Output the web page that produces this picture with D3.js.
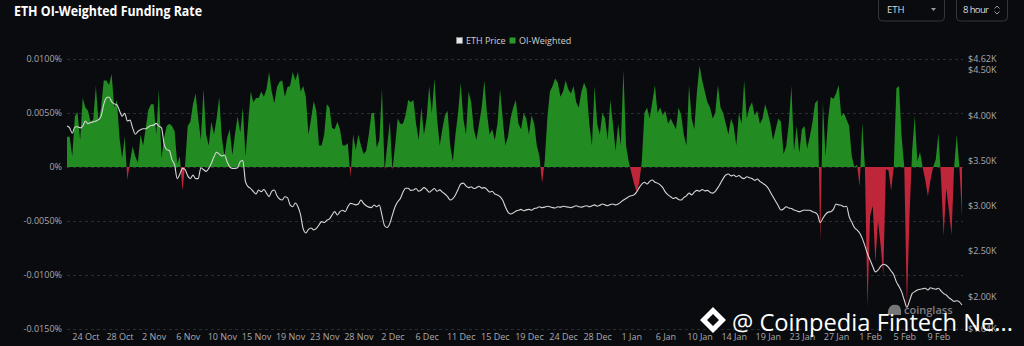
<!DOCTYPE html>
<html>
<head>
<meta charset="utf-8">
<script src="https://cdn.jsdelivr.net/npm/d3@7/dist/d3.min.js"></script>
<style>
  html, body { margin: 0; padding: 0; background: #0a0b0f; }
  svg { display: block; }
</style>
</head>
<body>
<svg id="chart" width="1024" height="346"></svg>
<script>
// ── Data (funding in units of 0.0001 %, price in USD) ──────────
const xTickLabels = ["24 Oct", "28 Oct", "2 Nov", "6 Nov", "10 Nov", "15 Nov", "19 Nov",
  "23 Nov", "28 Nov", "2 Dec", "6 Dec", "11 Dec", "15 Dec", "19 Dec", "24 Dec", "28 Dec",
  "1 Jan", "6 Jan", "10 Jan", "14 Jan", "19 Jan", "23 Jan", "27 Jan", "1 Feb", "5 Feb", "9 Feb"];
const firstTickIndex = 7;
const tickStep = 13;

const fundingTicks = [100, 50, 0, -50, -100, -150];
const priceTicks = [4620, 4500, 4000, 3500, 3000, 2500, 2000, 1640];

const fundingRate = [
  28, 28, 10, 47, 51, 25, 64, 55, 52, 42, 44, 75, 42, 55, 80, 80, 76, 86, 55, 62,
  27, 8, 28, -12, 5, 19, 10, 4, 30, 20, 36, 53, 58, 58, 30, 72, 8, 27, 38, 40,
  38, 33, 3,
  10, -22, 2, 38, 42, 58, 68, 45, 25, 72,
  30, 20, 42, 30, 45, 65, 27, 10, 27, 35,
  11, 30, 47, 32, 55, 10, 40, 70, 60, 64,
  64, 70, 65, 72, 88, 70, 59, 74, 79, 80,
  65, 74, 75,
  88, 80, 88, 70, 75, 65, 30, 45, 61, 52,
  20, 20, 30, 58, 55, 36, 35, 42, 35, 20,
  20, 22, -10, 30, 16, 30, 20, 12, 15, 30,
  50, 50, 18, 25, 73, -3, 20, 42, -3, 20,
  45, 40, 40, 48, 62, 60,
  62, 40, 25, 55, 30, 45, 75, 50,
  82, 45, 20, 35, 48, 52, 20, 5, 30, 50,
  78, 45, 30, 70, 60, 35, 25, 40, 55, 80,
  50, 30, 35, 25, 40, 72, 45, 20, 28, 45,
  55, 62, 40, 35, 50, 45, 30, 48, 40, 20,
  10, -15, 5, 45, 70, 75, 82, 78, 65, 70,
  80, 72, 68, 75, 60, 55, 70, 78, 72, 40,
  20, 75, 40, 30, 50, 45, 25, 62, 40, 15,
  40, 20, 90, 20, 5, -5, -15, -23, -15, 5,
  50, 55, 45, 60, 76, 50, 55, 48, 52, 40,
  45, 40, 35, 55, 48, 30, 20, 76, 45, 35,
  70, 94, 80, 70, 60, 55, 45, 50, 76, 55,
  50, 40, 30, 45, 38, 20, 50, 40, 80, 45,
  55, 60, 48, 52, 40, 45, 58, 50, 40, 25,
  35, 45,
  42, 12, 19, 40, 75, 15, 38, 13, 35, 38,
  17, 28, 41, 59, 62, -69, 60, 10, 45, 65,
  63, 68, 76, 47, 50, 44, 38, 10, 0, 2,
  -18, 41, 0, -130, -45, -36, -88, -50, -73, -100,
  -2, -3, -22, 0, 73, 75, 28, 0, -130, -45,
  15, 47, 5, 14, 0, -12, -27, -12, 0, 7,
  31, -10, -64, -20, -40, -63, 0, 30, 0, -46
];

const ethPrice = [
  3880, 3860, 3800, 3870, 3873, 3860, 3880, 3935, 3905, 3920,
  3925, 3935, 3950, 3990, 4120, 4190, 4200, 4150, 4125, 4115,
  4050, 3990, 4020, 3935, 3945, 3860, 3790, 3820, 3840, 3850,
  3850, 3870, 3885, 3890, 3910, 3880, 3860, 3680, 3620, 3610,
  3510, 3450, 3300,
  3350, 3413, 3400, 3330, 3300, 3340, 3300, 3300, 3420, 3400,
  3380, 3413, 3470, 3540, 3590, 3570, 3550, 3561, 3487, 3430,
  3413, 3413, 3420, 3487, 3500, 3266, 3211, 3190, 3156, 3130,
  3174, 3156, 3180, 3140, 3101, 3160, 3174, 3110, 3075, 3064,
  3100, 3090, 3010,
  2990, 3030, 2990, 2900, 2745, 2700, 2740, 2755, 2733, 2750,
  2788, 2825, 2815, 2840, 2855, 2900, 2935, 2898, 2935, 2950,
  2935, 2990, 3027, 3020, 3010, 3020, 3064, 3027, 3000, 2985,
  2980, 3009, 2990, 3009, 2898, 2780, 2760, 2806, 2900, 2990,
  3045, 3080, 3150, 3193, 3193, 3170,
  3174, 3190, 3160, 3175, 3200, 3180, 3150, 3170,
  3190, 3160, 3175, 3150, 3130, 3100, 3064, 3080, 3120, 3180,
  3240, 3250, 3220, 3200, 3210, 3190, 3200, 3215, 3195, 3200,
  3180, 3152, 3160, 3130, 3120, 3100, 3060, 2990, 2930, 2910,
  2920, 2940, 2950, 2960, 2945, 2955, 2960, 2950, 2970, 2975,
  2990, 2980, 2985, 2995, 2990, 2980, 2975, 2990, 2985, 2995,
  2990, 2985, 2980, 2990, 3000, 2990, 2985, 2995, 3000, 2990,
  3000, 3010, 2995, 3005, 3020, 3010, 3000, 3015, 3020, 3010,
  3020, 3040, 3064, 3080, 3100, 3110, 3120, 3150, 3200, 3240,
  3260, 3240, 3270, 3285, 3260, 3250, 3230, 3200, 3150, 3120,
  3100, 3080, 3090, 3070, 3064, 3090, 3110, 3140, 3120, 3150,
  3170, 3160, 3180, 3165, 3170, 3150, 3140, 3160, 3200, 3250,
  3300, 3340, 3350, 3330, 3340, 3320, 3335, 3310, 3300, 3320,
  3310, 3300, 3280, 3295, 3270, 3250, 3230, 3200, 3150, 3100,
  3050, 3000,
  2953, 2965, 2990, 2975, 2970, 2953, 2945, 2935, 2945, 2953,
  2950, 2950, 2935, 2925, 2900, 2814, 2862, 2905, 2930, 2935,
  2960, 3020, 3010, 3005, 2990, 2995, 2880, 2820, 2760, 2733,
  2700, 2640, 2560, 2470, 2400, 2330, 2270, 2290, 2330, 2355,
  2346, 2320, 2280, 2240, 2160, 2110, 2050, 1960, 1880, 1950,
  2030, 2052, 2070, 2078, 2085, 2089, 2070, 2096, 2085, 2078,
  2089, 2060, 2030, 2015, 1985, 1965, 1945, 1952, 1940, 1905
];

// ── Layout ───────────────────────────────────────────────────
const plot = { left: 67, right: 962, top: 59, bottom: 329 };
const N = fundingRate.length;
const GREEN = "#228b22";
const RED = "#bf2639";
const FONT = "'Open Sans', 'Noto Sans', sans-serif";

const svg = d3.select("#chart");
svg.append("rect").attr("width", 1024).attr("height", 346).attr("fill", "#0a0b0f");

// scales
const x = d3.scaleLinear().domain([0, N - 1]).range([plot.left, plot.right]);
const yF = d3.scaleLinear().domain([-150, 100]).range([plot.bottom, plot.top]);
const yP = d3.scaleLinear().domain([1640, 4620]).range([plot.bottom, plot.top]);

// title
svg.append("text")
  .attr("x", 14).attr("y", 15.5)
  .attr("fill", "#ffffff")
  .style("font", `700 14px ${FONT}`)
  .attr("textLength", 188).attr("lengthAdjust", "spacingAndGlyphs")
  .text("ETH OI-Weighted Funding Rate");

// selectors (top right)
const sel = svg.append("g").style("font", `400 9.5px ${FONT}`);
sel.append("rect").attr("x", 878.5).attr("y", -6).attr("width", 66).attr("height", 27)
  .attr("rx", 4).attr("fill", "none").attr("stroke", "#34363c");
sel.append("text").attr("x", 887).attr("y", 13).attr("fill", "#dcdcdc").text("ETH");
sel.append("path").attr("d", "M931,8 L936,8 L933.5,11 Z").attr("fill", "#9a9a9a");
sel.append("rect").attr("x", 956.5).attr("y", -6).attr("width", 51).attr("height", 27)
  .attr("rx", 4).attr("fill", "none").attr("stroke", "#34363c");
sel.append("text").attr("x", 963).attr("y", 13).attr("fill", "#dcdcdc")
  .attr("textLength", 26).text("8 hour");
sel.append("path").attr("d", "M994.5,8.5 L997,6 L999.5,8.5 M994.5,11.5 L997,14 L999.5,11.5")
  .attr("fill", "none").attr("stroke", "#9a9a9a").attr("stroke-width", 1);

// legend
const lg = svg.append("g").style("font", `400 9px ${FONT}`);
lg.append("rect").attr("x", 456.5).attr("y", 37.5).attr("width", 6).attr("height", 6)
  .attr("fill", "#e6e6e6").attr("stroke", "#8a8a8a").attr("stroke-width", 0.6);
lg.append("text").attr("x", 466).attr("y", 43.5).attr("fill", "#cfcfcf").text("ETH Price");
lg.append("rect").attr("x", 509.5).attr("y", 37.5).attr("width", 6).attr("height", 6)
  .attr("fill", "#2a9a2a");
lg.append("text").attr("x", 519).attr("y", 43.5).attr("fill", "#cfcfcf").text("OI-Weighted");

// grid lines
svg.append("g").selectAll("line")
  .data(fundingTicks)
  .join("line")
    .attr("x1", plot.left).attr("x2", plot.right + 1)
    .attr("y1", d => Math.round(yF(d)) + 0.5)
    .attr("y2", d => Math.round(yF(d)) + 0.5)
    .attr("stroke", "#2a2c33")
    .attr("stroke-dasharray", "3,3");

// left axis
const yAxisL = d3.axisLeft(yF)
  .tickValues(fundingTicks)
  .tickFormat(d => d === 0 ? "0%" : (d / 10000).toFixed(4) + "%")
  .tickSize(0).tickPadding(5);
svg.append("g")
  .attr("transform", `translate(${plot.left},0)`)
  .call(yAxisL)
  .call(g => g.select(".domain").remove())
  .call(g => g.selectAll("text").attr("fill", "#a9a9ad").style("font", `400 9px ${FONT}`));

// right axis
const yAxisR = d3.axisRight(yP)
  .tickValues(priceTicks)
  .tickFormat(d => "$" + (d / 1000).toFixed(2) + "K")
  .tickSize(0).tickPadding(6);
svg.append("g")
  .attr("transform", `translate(${plot.right},0)`)
  .call(yAxisR)
  .call(g => g.select(".domain").remove())
  .call(g => g.selectAll("text").attr("fill", "#a9a9ad").style("font", `400 9px ${FONT}`));

// bottom axis
const tickIdx = xTickLabels.map((_, k) => firstTickIndex + k * tickStep);
const xAxis = d3.axisBottom(x)
  .tickValues(tickIdx)
  .tickFormat((d, k) => xTickLabels[k])
  .tickSize(0).tickPadding(5);
svg.append("g")
  .attr("transform", `translate(0,${plot.bottom})`)
  .call(xAxis)
  .call(g => g.select(".domain").remove())
  .call(g => g.selectAll("text").attr("fill", "#a9a9ad").style("font", `400 9px ${FONT}`));

// funding area, split at zero
const defs = svg.append("defs");
defs.append("clipPath").attr("id", "clipPos")
  .append("rect").attr("x", 0).attr("y", 0).attr("width", 1024).attr("height", yF(0));
defs.append("clipPath").attr("id", "clipNeg")
  .append("rect").attr("x", 0).attr("y", yF(0)).attr("width", 1024).attr("height", 346);

const area = d3.area()
  .x((d, i) => x(i))
  .y0(yF(0))
  .y1(d => yF(d));

svg.append("path").datum(fundingRate)
  .attr("d", area).attr("fill", GREEN).attr("clip-path", "url(#clipPos)");
svg.append("path").datum(fundingRate)
  .attr("d", area).attr("fill", RED).attr("clip-path", "url(#clipNeg)");

// price line
const line = d3.line()
  .x((d, i) => x(i))
  .y(d => yP(d))
  .curve(d3.curveMonotoneX);
svg.append("path").datum(ethPrice)
  .attr("d", line)
  .attr("fill", "none")
  .attr("stroke", "#d6d6d6")
  .attr("stroke-width", 1.1);

// coinglass watermark
const cg = svg.append("g").attr("opacity", 0.6);
cg.append("path")
  .attr("d", "M888,315 C887,309 891,304 895,305 C899,304 902,308 901,315 Z")
  .attr("fill", "#bdbdbd");
cg.append("text").attr("x", 904).attr("y", 314).attr("fill", "#c8c8c8")
  .style("font", `600 11px ${FONT}`).text("coinglass");

// publisher watermark
const wm = svg.append("g");
const cx = 713, cy = 320;
wm.append("path")
  .attr("d", `M${cx},${cy - 13} L${cx + 13},${cy} L${cx},${cy + 13} L${cx - 13},${cy} Z
              M${cx},${cy - 6} L${cx - 6},${cy} L${cx},${cy + 6} L${cx + 6},${cy} Z`)
  .attr("fill", "#ffffff").attr("fill-rule", "evenodd");
wm.append("text")
  .attr("x", 732).attr("y", 331)
  .attr("fill", "#ffffff")
  .style("font", `400 24px ${FONT}`)
  .attr("textLength", 281).attr("lengthAdjust", "spacingAndGlyphs")
  .text("@ Coinpedia Fintech Ne...");
</script>
</body>
</html>
